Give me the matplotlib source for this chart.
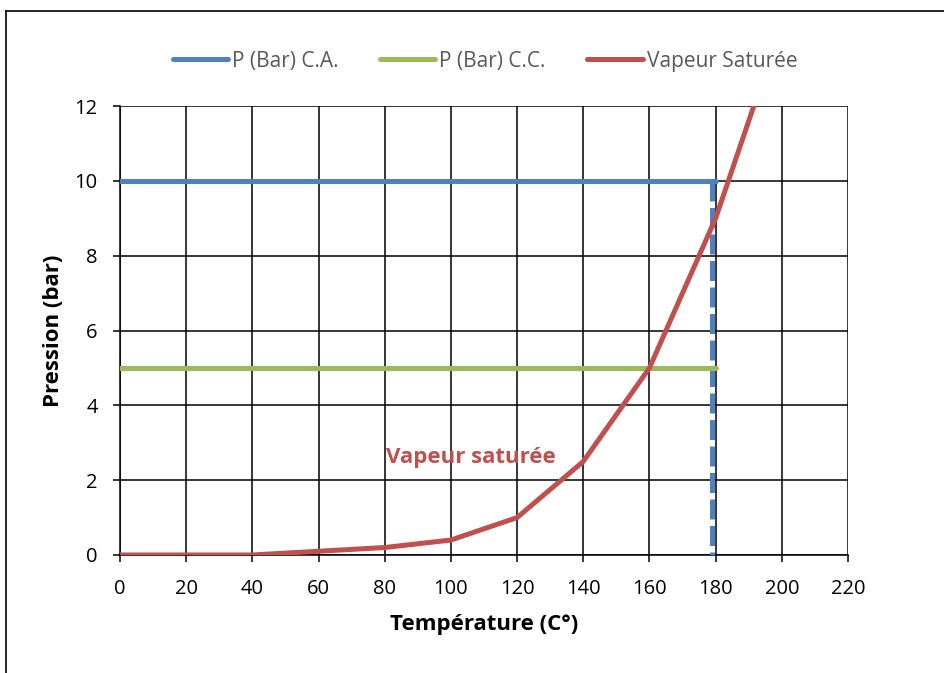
import matplotlib.pyplot as plt
from matplotlib.lines import Line2D

plt.rcParams['font.family'] = ['Open Sans', 'DejaVu Sans']

# data
temp_ca = [0, 180]
p_ca = [10, 10]
temp_ca_drop = [179, 179]
p_ca_drop = [10, 0]
temp_cc = [0, 180]
p_cc = [5, 5]
temp_sat = [0, 20, 40, 60, 80, 100, 120, 140, 160, 180, 200]
p_sat = [0, 0, 0, 0.1, 0.2, 0.4, 1, 2.5, 5, 9, 14.2]
xticks = list(range(0, 221, 20))
yticks = list(range(0, 13, 2))

blue = '#4F81BD'
green = '#9BBB59'
red = '#C0504D'

fig = plt.figure(figsize=(9.44, 6.73), dpi=100)
ax = fig.add_axes([120/944, 1-555/673, 728/944, 449/673])

ax.plot(temp_ca, p_ca, color=blue, lw=3.6, solid_capstyle='round', zorder=3)
ax.plot(temp_ca_drop, p_ca_drop, color=blue, lw=3.6, linestyle=(0, (4, 1.3)), zorder=3)
ax.plot(temp_cc, p_cc, color=green, lw=3.6, solid_capstyle='round', zorder=3)
ax.plot(temp_sat, p_sat, color=red, lw=3.6, solid_capstyle='round', zorder=4)

ax.set_xlim(0, 220)
ax.set_ylim(0, 12)
ax.set_xticks(xticks)
ax.set_yticks(yticks)
ax.grid(True, color='black', lw=1.1)
ax.set_axisbelow(True)
for s in ax.spines.values():
  s.set_visible(False)
ax.spines['left'].set_visible(True)
ax.spines['bottom'].set_visible(True)
ax.spines['left'].set_linewidth(1.1)
ax.spines['bottom'].set_linewidth(1.1)
ax.tick_params(axis='both', direction='out', length=5, width=1.1, labelsize=14.5, colors='black')
ax.tick_params(axis='y', pad=11)
ax.tick_params(axis='x', pad=12)

ax.set_xlabel('Température (C°)', fontsize=16, weight='bold', labelpad=11)
ax.set_ylabel('Pression (bar)', fontsize=16, weight='bold', labelpad=8)

ax.text(80.5, 2.6, 'Vapeur saturée', color=red, fontsize=16, weight='bold',
        ha='left', va='center', zorder=5)

handles = [Line2D([], [], color=blue, lw=3.6, solid_capstyle='round'),
           Line2D([], [], color=green, lw=3.6, solid_capstyle='round'),
           Line2D([], [], color=red, lw=3.6, solid_capstyle='round')]
labels = ['P (Bar) C.A.', 'P (Bar) C.C.', 'Vapeur Saturée']
leg = fig.legend(handles, labels, loc='center', bbox_to_anchor=(485/944, 1-61/673),
                 ncol=3, frameon=False, fontsize=15, handlelength=2.65,
                 handletextpad=0.2, columnspacing=2.0)
for t in leg.get_texts():
  t.set_color('#595959')

# outer frame
fig.add_artist(Line2D([6/944, 6/944], [0, 1-11/673], color='black', lw=1.2, transform=fig.transFigure))
fig.add_artist(Line2D([6/944, 1], [1-11/673, 1-11/673], color='black', lw=1.2, transform=fig.transFigure))

fig.savefig('out.png', dpi=100)
